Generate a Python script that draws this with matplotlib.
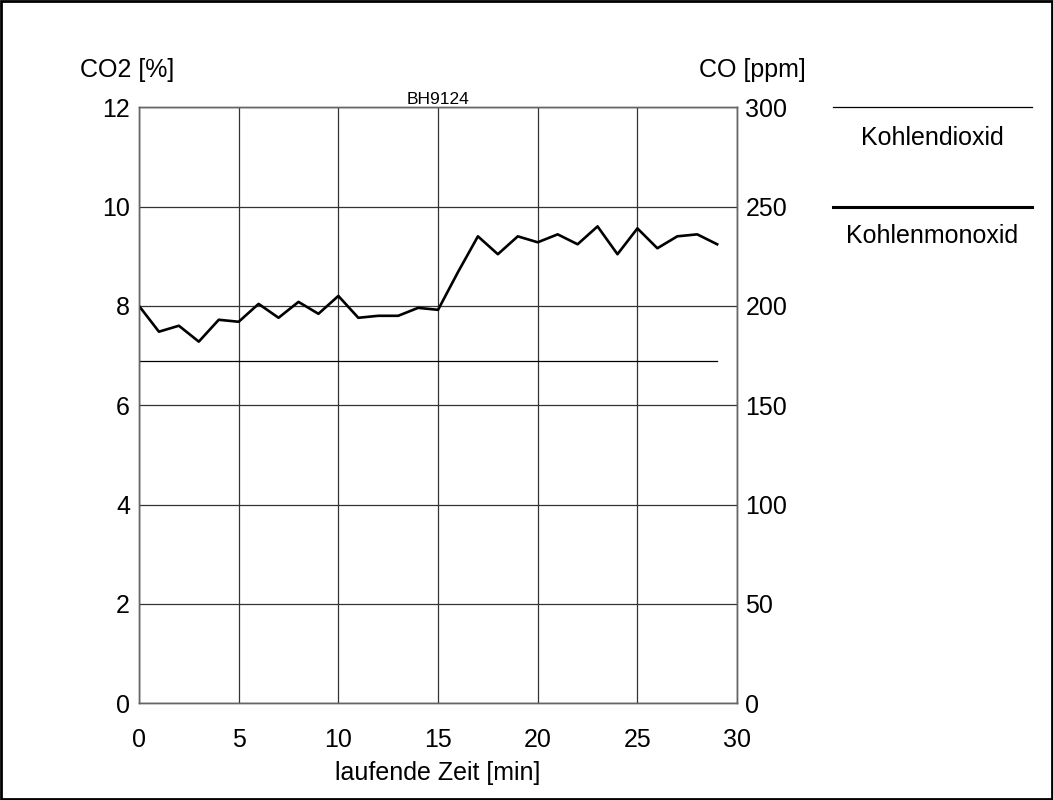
import numpy as np
import matplotlib.pyplot as plt

plt.rcParams['font.family'] = ['Liberation Sans', 'DejaVu Sans']

# Daten
zeit = list(range(30))
co2 = [6.9] * 30
co = [200, 187, 190, 182, 193, 192, 201, 194, 202, 196,
      205, 194, 195, 195, 199, 198, 217, 235, 226, 235,
      232, 236, 231, 240, 226, 239, 229, 235, 236, 231]
x_ticks = [0, 5, 10, 15, 20, 25, 30]
co2_ticks = [0, 2, 4, 6, 8, 10, 12]
co_ticks = [0, 50, 100, 150, 200, 250, 300]

fig = plt.figure(figsize=(10.53, 8), dpi=100)
ax = fig.add_axes([0.132, 0.121, 0.568, 0.745])
ax2 = ax.twinx()

ax.plot(zeit, co2, color='black', lw=0.9)
ax2.plot(zeit, co, color='black', lw=1.9)

ax.set_xlim(0, 30)
ax.set_ylim(0, 12)
ax2.set_ylim(0, 300)
ax.set_xticks(x_ticks)
ax.set_yticks(co2_ticks)
ax2.set_yticks(co_ticks)
ax.grid(True, color='#333333', lw=0.9)
ax.tick_params(axis='y', length=0, labelsize=18, pad=6.5)
ax.tick_params(axis='x', length=0, labelsize=18, pad=18)
ax2.tick_params(length=0, labelsize=18, pad=6)
for a in (ax, ax2):
    for s in a.spines.values():
        s.set_color('#666666')
        s.set_linewidth(1.0)

ax.set_xlabel('laufende Zeit [min]', fontsize=18, labelpad=6)
fig.text(0.076, 0.912, 'CO2 [%]', fontsize=18, ha='left', va='center')
fig.text(0.664, 0.912, 'CO [ppm]', fontsize=18, ha='left', va='center')
ax.set_title('BH9124', fontsize=12.5, pad=2)

# Legende rechts
fig.add_artist(plt.Line2D([0.791, 0.980], [0.866, 0.866], color='black', lw=0.9,
                          transform=fig.transFigure))
fig.text(0.885, 0.828, 'Kohlendioxid', fontsize=18, ha='center', va='center')
fig.add_artist(plt.Line2D([0.791, 0.980], [0.741, 0.741], color='black', lw=2.2,
                          transform=fig.transFigure))
fig.text(0.885, 0.705, 'Kohlenmonoxid', fontsize=18, ha='center', va='center')

# Rahmen
fig.add_artist(plt.Rectangle((0.001, 0.001), 0.998, 0.998, fill=False,
                             edgecolor='black', lw=2, transform=fig.transFigure))

fig.savefig('out.png', dpi=100)
